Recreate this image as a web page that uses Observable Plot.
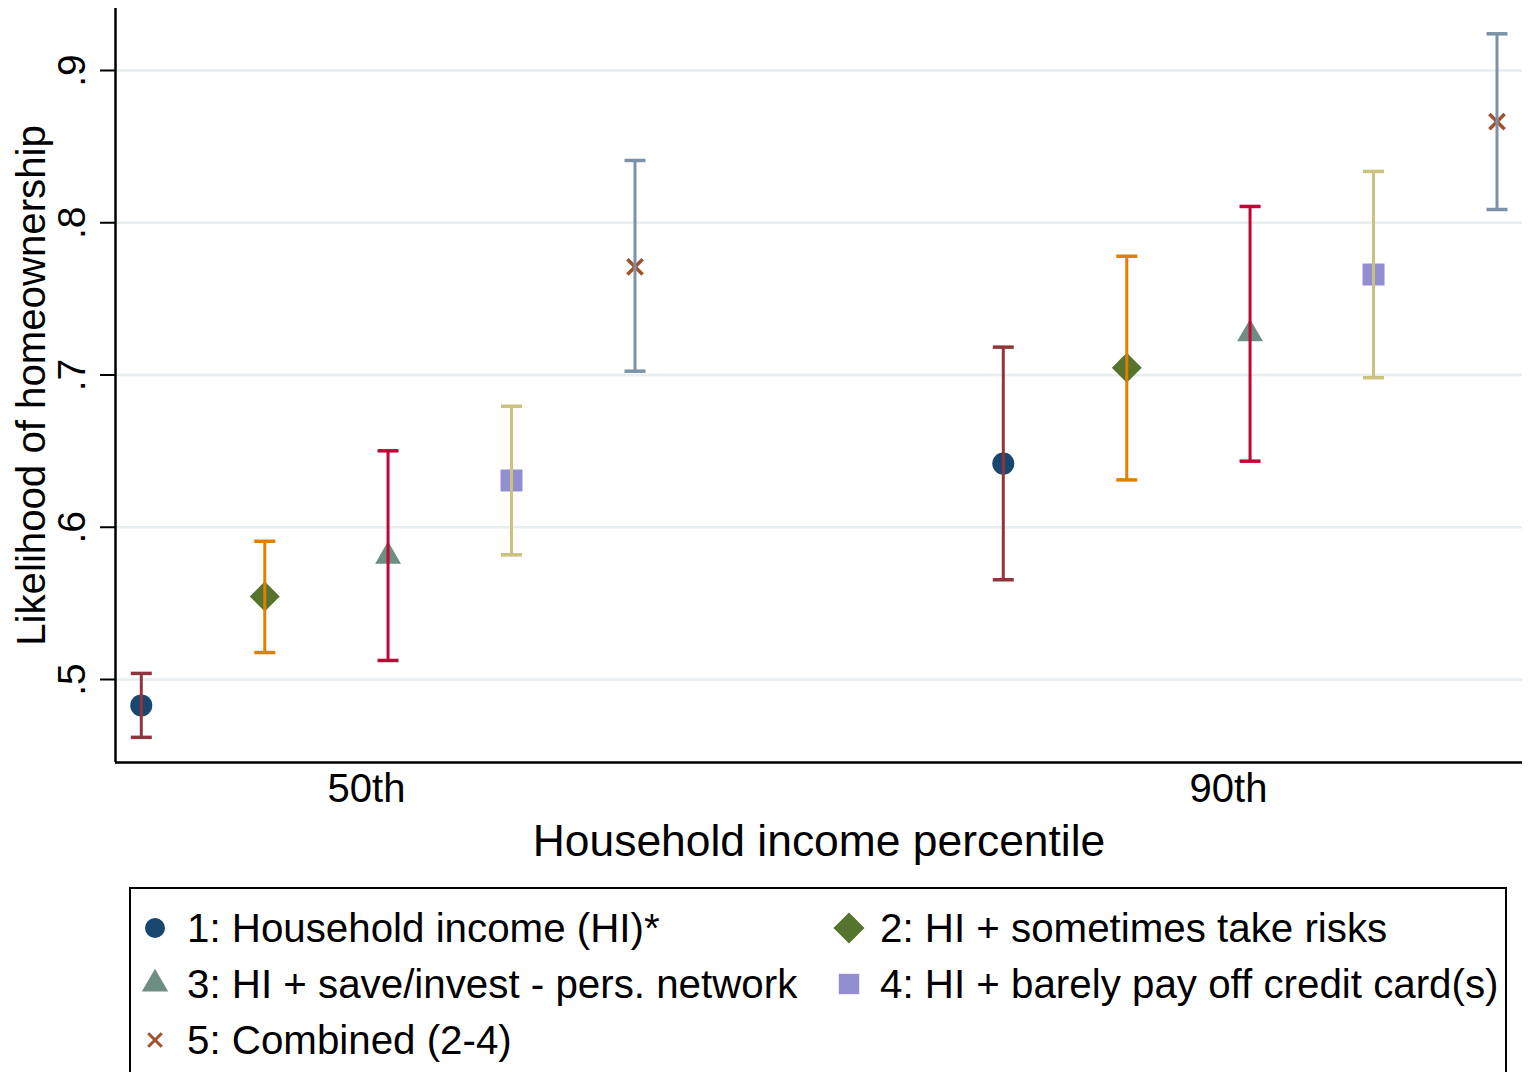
<!DOCTYPE html>
<html><head><meta charset="utf-8">
<script src="https://cdn.jsdelivr.net/npm/d3@7"></script>
<script src="https://cdn.jsdelivr.net/npm/@observablehq/plot@0.6"></script>
<style>
html,body{margin:0;padding:0;background:#fff;}
body{font-family:"Liberation Sans",Arial,sans-serif;overflow:hidden;width:1537px;height:1072px;position:relative;}
#chart{position:absolute;left:0;top:0;}
#legend{position:absolute;left:129px;top:887px;width:1378px;height:240px;border:2.5px solid #000;box-sizing:border-box;}
.item{position:absolute;font-size:40.3px;line-height:1;color:#000;white-space:nowrap;}
.mk{position:absolute;}
</style></head><body><div id="chart"></div><div id="legend"></div>
<script>
// ---- data ----
const models = ["1: Household income (HI)*", "2: HI + sometimes take risks", "3: HI + save/invest - pers. network", "4: HI + barely pay off credit card(s)", "5: Combined (2-4)"];
const percentiles = [50, 90];
const tickLabels = ["50th", "90th"];
const modelOffset = [-10.45, -4.72, 1.0, 6.73, 12.46];
const est50 = [0.483, 0.5545, 0.581, 0.6307, 0.771];
const lo50  = [0.462, 0.5177, 0.5125, 0.5819, 0.7025];
const hi50  = [0.504, 0.5908, 0.6502, 0.6795, 0.8409];
const est90 = [0.6418, 0.7047, 0.727, 0.766, 0.8664];
const lo90  = [0.5655, 0.6311, 0.6434, 0.6982, 0.8087];
const hi90  = [0.7183, 0.778, 0.8107, 0.8337, 0.9241];
const yTicks = [0.5, 0.6, 0.7, 0.8, 0.9];
const markerColors = ["#1a476f", "#55752f", "#6e8e84", "#938dd2", "#a0522d"];
const ciColors = ["#90353b", "#e37e00", "#c10534", "#cac27e", "#7b92a8"];
const symbols = ["circle", "diamond2", "triangle", "square", "times"];
const symbolR = [11, 13.5, 9.6, 12.4, 7];
const yTitle = "Likelihood of homeownership";
const xTitle = "Household income percentile";

// ---- build table ----
const rows = [];
percentiles.forEach((p, pi) => {
  const est = pi === 0 ? est50 : est90, lo = pi === 0 ? lo50 : lo90, hi = pi === 0 ? hi50 : hi90;
  models.forEach((m, i) => rows.push({x: p + modelOffset[i], est: est[i], lo: lo[i], hi: hi[i], model: i,
    mc: markerColors[i], cc: ciColors[i]}));
});

const xDomain = [38.353, 103.643];
const yDomain = [0.44548, 0.94072];

const capSymbol = {draw(ctx) { ctx.moveTo(-10.5, 0); ctx.lineTo(10.5, 0); }};

const pointMarks = models.map((m, i) => {
  const data = rows.filter(d => d.model === i);
  if (symbols[i] === "times") {
    return Plot.dot(data, {x: "x", y: "est", symbol: "times", r: symbolR[i], stroke: "mc", strokeWidth: 3.5, fill: "none"});
  }
  return Plot.dot(data, {x: "x", y: "est", symbol: symbols[i], r: symbolR[i], fill: "mc", stroke: "none"});
});

const fmt = d => d3.format(".1f")(d).replace(/^0/, "");

const chart = Plot.plot({
  width: 1537,
  height: 875,
  marginLeft: 115,
  marginRight: 15,
  marginTop: 8,
  marginBottom: 113,
  style: {fontFamily: '"Liberation Sans", Arial, sans-serif', color: "#000", background: "#fff", overflow: "visible"},
  color: {type: "identity"},
  x: {domain: xDomain, axis: null},
  y: {domain: yDomain, axis: null},
  marks: [
    Plot.ruleY(yTicks, {stroke: "#e6eef0", strokeWidth: 2.5}),
    ...pointMarks,
    Plot.ruleX(rows, {x: "x", y1: "lo", y2: "hi", stroke: "cc", strokeWidth: 3}),
    Plot.dot(rows, {x: "x", y: "lo", symbol: capSymbol, r: 5, stroke: "cc", strokeWidth: 3.5, fill: "none"}),
    Plot.dot(rows, {x: "x", y: "hi", symbol: capSymbol, r: 5, stroke: "cc", strokeWidth: 3.5, fill: "none"}),
    Plot.ruleX([xDomain[0]], {stroke: "#000", strokeWidth: 2.5}),
    Plot.ruleY([yDomain[0]], {stroke: "#000", strokeWidth: 2.5}),
    Plot.axisY(yTicks, {tickSize: 15, tickRotate: -90, tickPadding: 16, tickFormat: fmt, fontSize: 39, strokeWidth: 2, label: null}),
    Plot.axisX(percentiles, {tickSize: 0, tickPadding: 11, tickFormat: d => tickLabels[percentiles.indexOf(d)], fontSize: 40, label: null}),
    Plot.text([xTitle], {frameAnchor: "bottom", dy: 62, lineAnchor: "top", textAnchor: "middle", fontSize: 44.4, fill: "#000"}),
    Plot.text([yTitle], {frameAnchor: "left", dx: -99, rotate: -90, lineAnchor: "top", textAnchor: "middle", fontSize: 40.2, fill: "#000"})
  ]
});
document.getElementById("chart").appendChild(chart);

// ---- legend ----
const legendPos = [
  {mx: 155, tx: 187, top: 909},
  {mx: 849, tx: 880, top: 909},
  {mx: 155, tx: 187, top: 965},
  {mx: 849, tx: 880, top: 965},
  {mx: 155, tx: 187, top: 1021}
];
const legendR = [10, 14, 9.8, 11.5, 6.2];
const symMap = {circle: d3.symbolCircle, diamond2: d3.symbolDiamond2, triangle: d3.symbolTriangle, square: d3.symbolSquare, times: d3.symbolTimes};
models.forEach((m, i) => {
  const pos = legendPos[i];
  const t = document.createElement("div");
  t.className = "item";
  t.style.left = pos.tx + "px";
  t.style.top = pos.top + "px";
  t.textContent = m;
  document.body.appendChild(t);
  const cy = pos.top + 19;
  const s = 40;
  const svg = d3.select(document.body).append("svg").attr("class", "mk")
    .attr("width", s).attr("height", s)
    .style("left", (pos.mx - s / 2) + "px").style("top", (cy - s / 2) + "px");
  const path = d3.symbol(symMap[symbols[i]], Math.PI * legendR[i] * legendR[i])();
  const p = svg.append("path").attr("d", path).attr("transform", `translate(${s / 2},${s / 2})`);
  if (symbols[i] === "times") p.attr("fill", "none").attr("stroke", markerColors[i]).attr("stroke-width", 3);
  else p.attr("fill", markerColors[i]);
});
</script>
</body></html>
